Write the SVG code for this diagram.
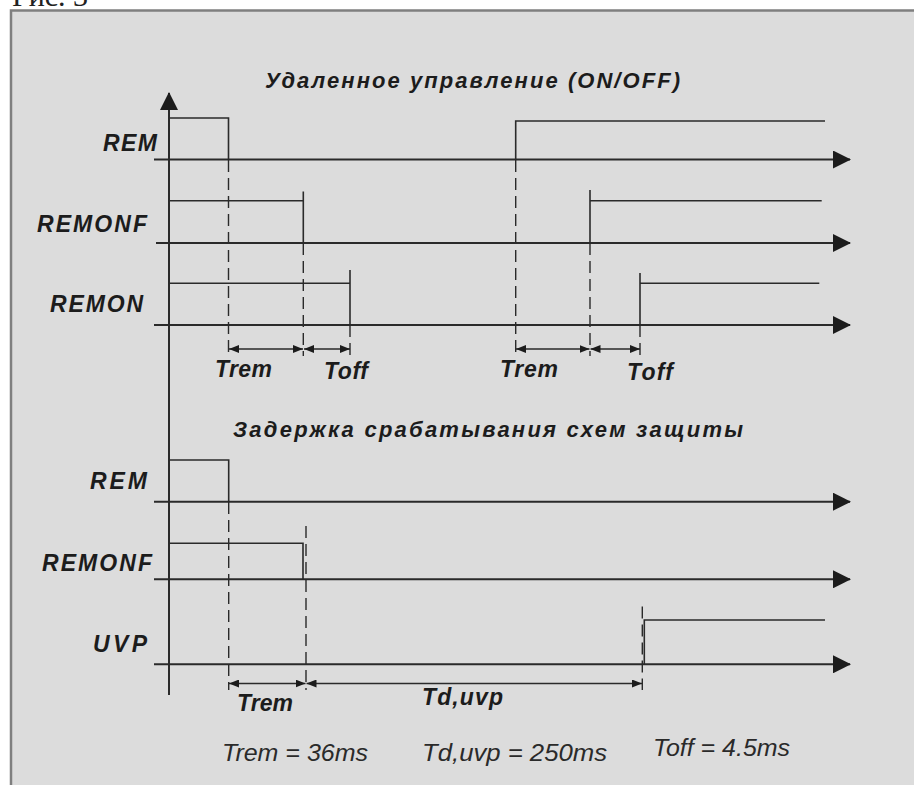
<svg xmlns="http://www.w3.org/2000/svg" width="914" height="785" viewBox="0 0 914 785">
  <defs>
    <style>
      .axis { stroke: #2a2a2a; stroke-width: 2; fill: none; }
      .sig { stroke: #2a2a2a; stroke-width: 1.6; fill: none; }
      .dash { stroke: #2a2a2a; stroke-width: 1.4; fill: none; stroke-dasharray: 12 6; }
      .dim { stroke: #2a2a2a; stroke-width: 1.3; fill: none; marker-start: url(#dimArrow); marker-end: url(#dimArrow); }
      .lbl { font-family: "Liberation Sans", Arial, sans-serif; font-weight: bold; font-style: italic; fill: #1c1c1c; }
      .note { font-family: "Liberation Sans", Arial, sans-serif; font-style: italic; fill: #2a2a2a; font-size: 24px; }
    </style>
    <marker id="axArrow" viewBox="0 0 18 18" refX="17" refY="9" markerWidth="18" markerHeight="18" markerUnits="userSpaceOnUse" orient="auto">
      <path d="M0,0 L18,9 L0,18 Z" fill="#1c1c1c"/>
    </marker>
    <marker id="dimArrow" viewBox="0 0 10 8" refX="10" refY="4" markerWidth="10" markerHeight="8" markerUnits="userSpaceOnUse" orient="auto-start-reverse">
      <path d="M0,0 L10,4 L0,8 Z" fill="#1c1c1c"/>
    </marker>
  </defs>

  <rect x="0" y="0" width="914" height="785" fill="#ffffff"/>
  <text x="12" y="6" font-family="Liberation Serif, 'Times New Roman', serif" font-size="30" fill="#222">Рис. 3</text>
  <rect id="frame" x="11" y="10.5" width="920" height="790" fill="#dcdcdc" stroke="#7f7f7f" stroke-width="2.5"/>

  <g id="titles">
    <text class="lbl" x="265" y="88" font-size="22" textLength="415" lengthAdjust="spacing">Удаленное управление (ON/OFF)</text>
    <text class="lbl" x="233" y="437" font-size="22" textLength="510" lengthAdjust="spacing">Задержка срабатывания схем защиты</text>
  </g>

  <g id="time-axis">
    <line class="axis" x1="169" y1="695" x2="169" y2="93" marker-end="url(#axArrow)"/>
  </g>

  <g id="rem-top">
    <text class="lbl" x="103" y="151" font-size="23" textLength="54" lengthAdjust="spacing">REM</text>
    <line class="axis" x1="154" y1="159.5" x2="850" y2="159.5" marker-end="url(#axArrow)"/>
    <polyline class="sig" points="169,118 228.5,118 228.5,159.5"/>
    <polyline class="sig" points="515.7,159.5 515.7,121 825,121"/>
  </g>

  <g id="remonf-top">
    <text class="lbl" x="37" y="232" font-size="23" textLength="110" lengthAdjust="spacing">REMONF</text>
    <line class="axis" x1="156" y1="243" x2="850" y2="243" marker-end="url(#axArrow)"/>
    <polyline class="sig" points="169,200.7 303.3,200.7"/>
    <line class="sig" x1="303.3" y1="191.5" x2="303.3" y2="243"/>
    <line class="sig" x1="590" y1="190" x2="590" y2="243"/>
    <polyline class="sig" points="590,200.7 821.7,200.7"/>
  </g>

  <g id="remon-top">
    <text class="lbl" x="50" y="312" font-size="23" textLength="93" lengthAdjust="spacing">REMON</text>
    <line class="axis" x1="154" y1="325" x2="850" y2="325" marker-end="url(#axArrow)"/>
    <polyline class="sig" points="169,283.3 350,283.3"/>
    <line class="sig" x1="350" y1="270" x2="350" y2="325"/>
    <line class="sig" x1="640" y1="273" x2="640" y2="325"/>
    <polyline class="sig" points="640,283.3 819.3,283.3"/>
  </g>

  <g id="rem-bottom">
    <text class="lbl" x="90" y="489" font-size="23" textLength="57" lengthAdjust="spacing">REM</text>
    <line class="axis" x1="154" y1="501.7" x2="850" y2="501.7" marker-end="url(#axArrow)"/>
    <polyline class="sig" points="169,460 228.7,460 228.7,501.7"/>
  </g>

  <g id="remonf-bottom">
    <text class="lbl" x="42" y="571" font-size="23" textLength="110" lengthAdjust="spacing">REMONF</text>
    <line class="axis" x1="154" y1="579.3" x2="850" y2="579.3" marker-end="url(#axArrow)"/>
    <polyline class="sig" points="169,543.3 303,543.3 303,579.3"/>
  </g>

  <g id="uvp">
    <text class="lbl" x="93" y="652" font-size="23" textLength="54" lengthAdjust="spacing">UVP</text>
    <line class="axis" x1="154" y1="664.3" x2="850" y2="664.3" marker-end="url(#axArrow)"/>
    <polyline class="sig" points="644.3,664.3 644.3,620 825,620"/>
  </g>

  <g id="connectors">
    <line class="dash" x1="228.5" y1="160" x2="228.5" y2="356"/>
    <line class="dash" x1="303.3" y1="243" x2="303.3" y2="356"/>
    <line class="dash" x1="350" y1="325" x2="350" y2="356"/>
    <line class="dash" x1="515.7" y1="160" x2="515.7" y2="356"/>
    <line class="dash" x1="590" y1="243" x2="590" y2="356"/>
    <line class="dash" x1="640" y1="325" x2="640" y2="356"/>

    <line class="dim" x1="229" y1="349" x2="303" y2="349"/>
    <line class="dim" x1="304" y1="349" x2="350" y2="349"/>
    <line class="dim" x1="516" y1="349" x2="589.5" y2="349"/>
    <line class="dim" x1="590.5" y1="349" x2="640" y2="349"/>

    <line class="dash" x1="228.7" y1="502" x2="228.7" y2="690"/>
    <line class="dash" x1="306" y1="526" x2="306" y2="690"/>
    <line class="dash" x1="642.3" y1="606.5" x2="642.3" y2="690"/>

    <line class="dim" x1="229" y1="683.5" x2="305.5" y2="683.5"/>
    <line class="dim" x1="306.5" y1="683.5" x2="642" y2="683.5"/>
  </g>

  <g id="dimension-labels">
    <text class="lbl" x="215" y="377" font-size="23" textLength="57" lengthAdjust="spacing">Trem</text>
    <text class="lbl" x="324" y="379" font-size="23" textLength="44" lengthAdjust="spacing">Toff</text>
    <text class="lbl" x="500" y="377" font-size="23" textLength="58" lengthAdjust="spacing">Trem</text>
    <text class="lbl" x="627" y="380" font-size="23" textLength="46" lengthAdjust="spacing">Toff</text>
    <text class="lbl" x="237" y="711" font-size="23" textLength="56" lengthAdjust="spacing">Trem</text>
    <text class="lbl" x="422" y="705" font-size="23" textLength="81" lengthAdjust="spacing">Td,uvp</text>
  </g>

  <g id="notes">
    <text class="note" x="222" y="761" textLength="146" lengthAdjust="spacingAndGlyphs">Trem = 36ms</text>
    <text class="note" x="422" y="761" textLength="185" lengthAdjust="spacingAndGlyphs">Td,uvp = 250ms</text>
    <text class="note" x="653" y="756" textLength="137" lengthAdjust="spacingAndGlyphs">Toff = 4.5ms</text>
  </g>
</svg>
